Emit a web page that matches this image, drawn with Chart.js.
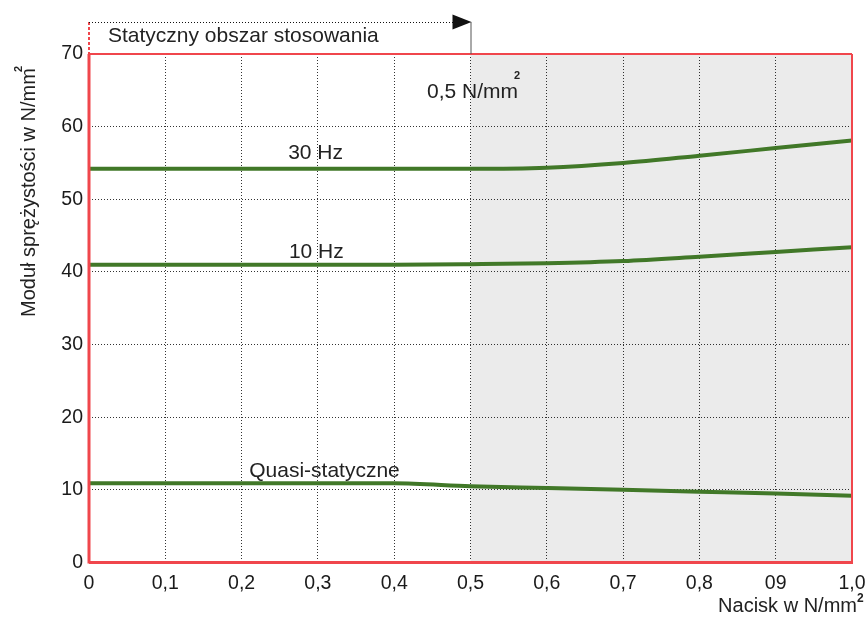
<!DOCTYPE html>
<html>
<head>
<meta charset="utf-8">
<script src="https://cdn.jsdelivr.net/npm/chart.js@4.4.1/dist/chart.umd.min.js"></script>
<style>
html,body{margin:0;padding:0;background:#fff;}
canvas{display:block;}
</style>
</head>
<body>
<canvas id="c" width="865" height="617"></canvas>
<script>
// ---- data ----
const xValues = [0, 0.1, 0.2, 0.3, 0.4, 0.5, 0.6, 0.7, 0.8, 0.9, 1.0];
const xTickLabels = ["0", "0,1", "0,2", "0,3", "0,4", "0,5", "0,6", "0,7", "0,8", "09", "1,0"];
const yTickLabels = ["0", "10", "20", "30", "40", "50", "60", "70"];
const series30Hz = [54.2, 54.2, 54.2, 54.2, 54.2, 54.2, 54.35, 55.0, 56.0, 57.05, 58.1];
const series10Hz = [41.0, 41.0, 41.0, 41.0, 41.0, 41.07, 41.2, 41.5, 42.1, 42.75, 43.4];
const seriesQuasi = [10.9, 10.9, 10.9, 10.9, 10.9, 10.5, 10.25, 10.0, 9.75, 9.5, 9.2];
const seriesNames = ["30 Hz", "10 Hz", "Quasi-statyczne"];

const FONT = "'Liberation Sans', Arial, Helvetica, sans-serif";
const GREEN = '#417828';
const RED = '#f0464c';

function pts(arr){ return xValues.map((x,i)=>({x:x, y:arr[i]})); }

const annot = {
  id: 'annot',
  beforeDraw(chart){
    const ctx = chart.ctx, a = chart.chartArea, xs = chart.scales.x;
    ctx.save();
    ctx.fillStyle = '#fff';
    ctx.fillRect(0,0,chart.width,chart.height);
    const x5 = xs.getPixelForValue(0.5);
    ctx.fillStyle = '#ebebeb';
    ctx.fillRect(x5, a.top, a.right - x5, a.bottom - a.top);
    ctx.restore();
  },
  afterDraw(chart){
    const ctx = chart.ctx, a = chart.chartArea, xs = chart.scales.x, ys = chart.scales.y;
    ctx.save();
    // red frame
    ctx.strokeStyle = RED;
    ctx.lineWidth = 2;
    ctx.beginPath(); ctx.moveTo(a.left, a.top); ctx.lineTo(a.right, a.top); ctx.stroke();
    ctx.beginPath(); ctx.moveTo(a.right, a.top); ctx.lineTo(a.right, a.bottom); ctx.stroke();
    ctx.lineWidth = 3;
    ctx.beginPath(); ctx.moveTo(a.left, a.top); ctx.lineTo(a.left, a.bottom + 1); ctx.stroke();
    ctx.beginPath(); ctx.moveTo(a.left, a.bottom); ctx.lineTo(a.right + 1, a.bottom); ctx.stroke();

    // top annotation: static range arrow
    const x0 = xs.getPixelForValue(0), x5 = xs.getPixelForValue(0.5);
    const yArr = 22;
    ctx.strokeStyle = RED; ctx.lineWidth = 2; ctx.setLineDash([3,2]);
    ctx.beginPath(); ctx.moveTo(x0, yArr); ctx.lineTo(x0, a.top); ctx.stroke();
    ctx.strokeStyle = '#111'; ctx.lineWidth = 1; ctx.setLineDash([1,2]);
    ctx.beginPath(); ctx.moveTo(x0, yArr + 0.5); ctx.lineTo(x5 - 16, yArr + 0.5); ctx.stroke();
    ctx.setLineDash([]);
    ctx.strokeStyle = '#555'; ctx.lineWidth = 1;
    ctx.beginPath(); ctx.moveTo(x5 + 0.5, yArr); ctx.lineTo(x5 + 0.5, a.top); ctx.stroke();
    ctx.fillStyle = '#111';
    ctx.beginPath(); ctx.moveTo(x5 + 1, yArr); ctx.lineTo(x5 - 18, yArr - 7.5); ctx.lineTo(x5 - 18, yArr + 7.5); ctx.closePath(); ctx.fill();

    ctx.fillStyle = '#222';
    ctx.textAlign = 'left'; ctx.textBaseline = 'alphabetic';
    ctx.font = '21px ' + FONT;
    ctx.fillText('Statyczny obszar stosowania', x0 + 19, 41.5);

    // 0,5 N/mm2
    const px = xs.getPixelForValue(0.443), py = ys.getPixelForValue(64.0);
    ctx.font = '21px ' + FONT;
    ctx.fillText('0,5 N/mm', px, py);
    const w05 = ctx.measureText('0,5 N/mm').width;
    ctx.font = 'bold 11px ' + FONT;
    ctx.fillText('2', px + w05 - 4, py - 19);

    // curve labels
    ctx.font = '21px ' + FONT;
    ctx.fillText(seriesNames[0], xs.getPixelForValue(0.261), ys.getPixelForValue(55.6));
    ctx.fillText(seriesNames[1], xs.getPixelForValue(0.262), ys.getPixelForValue(41.95));
    ctx.fillText(seriesNames[2], xs.getPixelForValue(0.210), ys.getPixelForValue(11.78));

    // x axis title
    ctx.font = '20px ' + FONT;
    ctx.textAlign = 'right';
    ctx.fillText('Nacisk w N/mm', 857, 612);
    ctx.textAlign = 'left';
    ctx.font = 'bold 12px ' + FONT;
    ctx.fillText('2', 857, 602);

    // y axis title
    ctx.save();
    ctx.translate(35, 317);
    ctx.rotate(-Math.PI/2);
    ctx.font = '20px ' + FONT;
    ctx.fillStyle = '#222';
    ctx.fillText('Moduł sprężystości w N/mm', 0, 0);
    const wy = ctx.measureText('Moduł sprężystości w N/mm').width;
    ctx.font = 'bold 11px ' + FONT;
    ctx.fillText('2', wy - 4, -13);
    ctx.restore();

    ctx.restore();
  }
};

new Chart(document.getElementById('c'), {
  type: 'line',
  data: {
    datasets: [
      { label: seriesNames[0], data: pts(series30Hz), borderColor: GREEN, borderWidth: 4, pointRadius: 0, cubicInterpolationMode: 'monotone', fill: false },
      { label: seriesNames[1], data: pts(series10Hz), borderColor: GREEN, borderWidth: 4, pointRadius: 0, cubicInterpolationMode: 'monotone', fill: false },
      { label: seriesNames[2], data: pts(seriesQuasi), borderColor: GREEN, borderWidth: 4, pointRadius: 0, cubicInterpolationMode: 'monotone', fill: false }
    ]
  },
  options: {
    responsive: false,
    animation: false,
    devicePixelRatio: 1,
    layout: { padding: { top: 54, right: 13, left: 0, bottom: 0 } },
    plugins: { legend: { display: false }, tooltip: { enabled: false }, title: { display: false } },
    scales: {
      x: {
        type: 'linear', min: 0, max: 1,
        afterFit(s){ s.height = 54.5; s.paddingRight = 0; s.paddingLeft = 0; },
        afterBuildTicks(s){ s.ticks = xValues.map(v => ({value: v})); },
        ticks: {
          autoSkip: false, maxRotation: 0, padding: 9,
          color: '#1a1a1a', font: { family: FONT, size: 19.5 },
          callback: (v, i) => xTickLabels[i]
        },
        grid: { color: 'rgba(0,0,0,0.8)', lineWidth: 1, drawTicks: false },
        border: { display: false, dash: [1, 2] }
      },
      y: {
        type: 'linear', min: 0, max: 70,
        afterFit(s){ s.width = 89; s.paddingTop = 0; s.paddingBottom = 0; },
        afterBuildTicks(s){ s.ticks = yTickLabels.map((t, i) => ({value: i * 10})); },
        ticks: {
          autoSkip: false, padding: 6,
          color: '#1a1a1a', font: { family: FONT, size: 19.5 },
          callback: (v, i) => yTickLabels[i]
        },
        grid: { color: 'rgba(0,0,0,0.8)', lineWidth: 1, drawTicks: false },
        border: { display: false, dash: [1, 2] }
      }
    }
  },
  plugins: [annot]
});
</script>
</body>
</html>
